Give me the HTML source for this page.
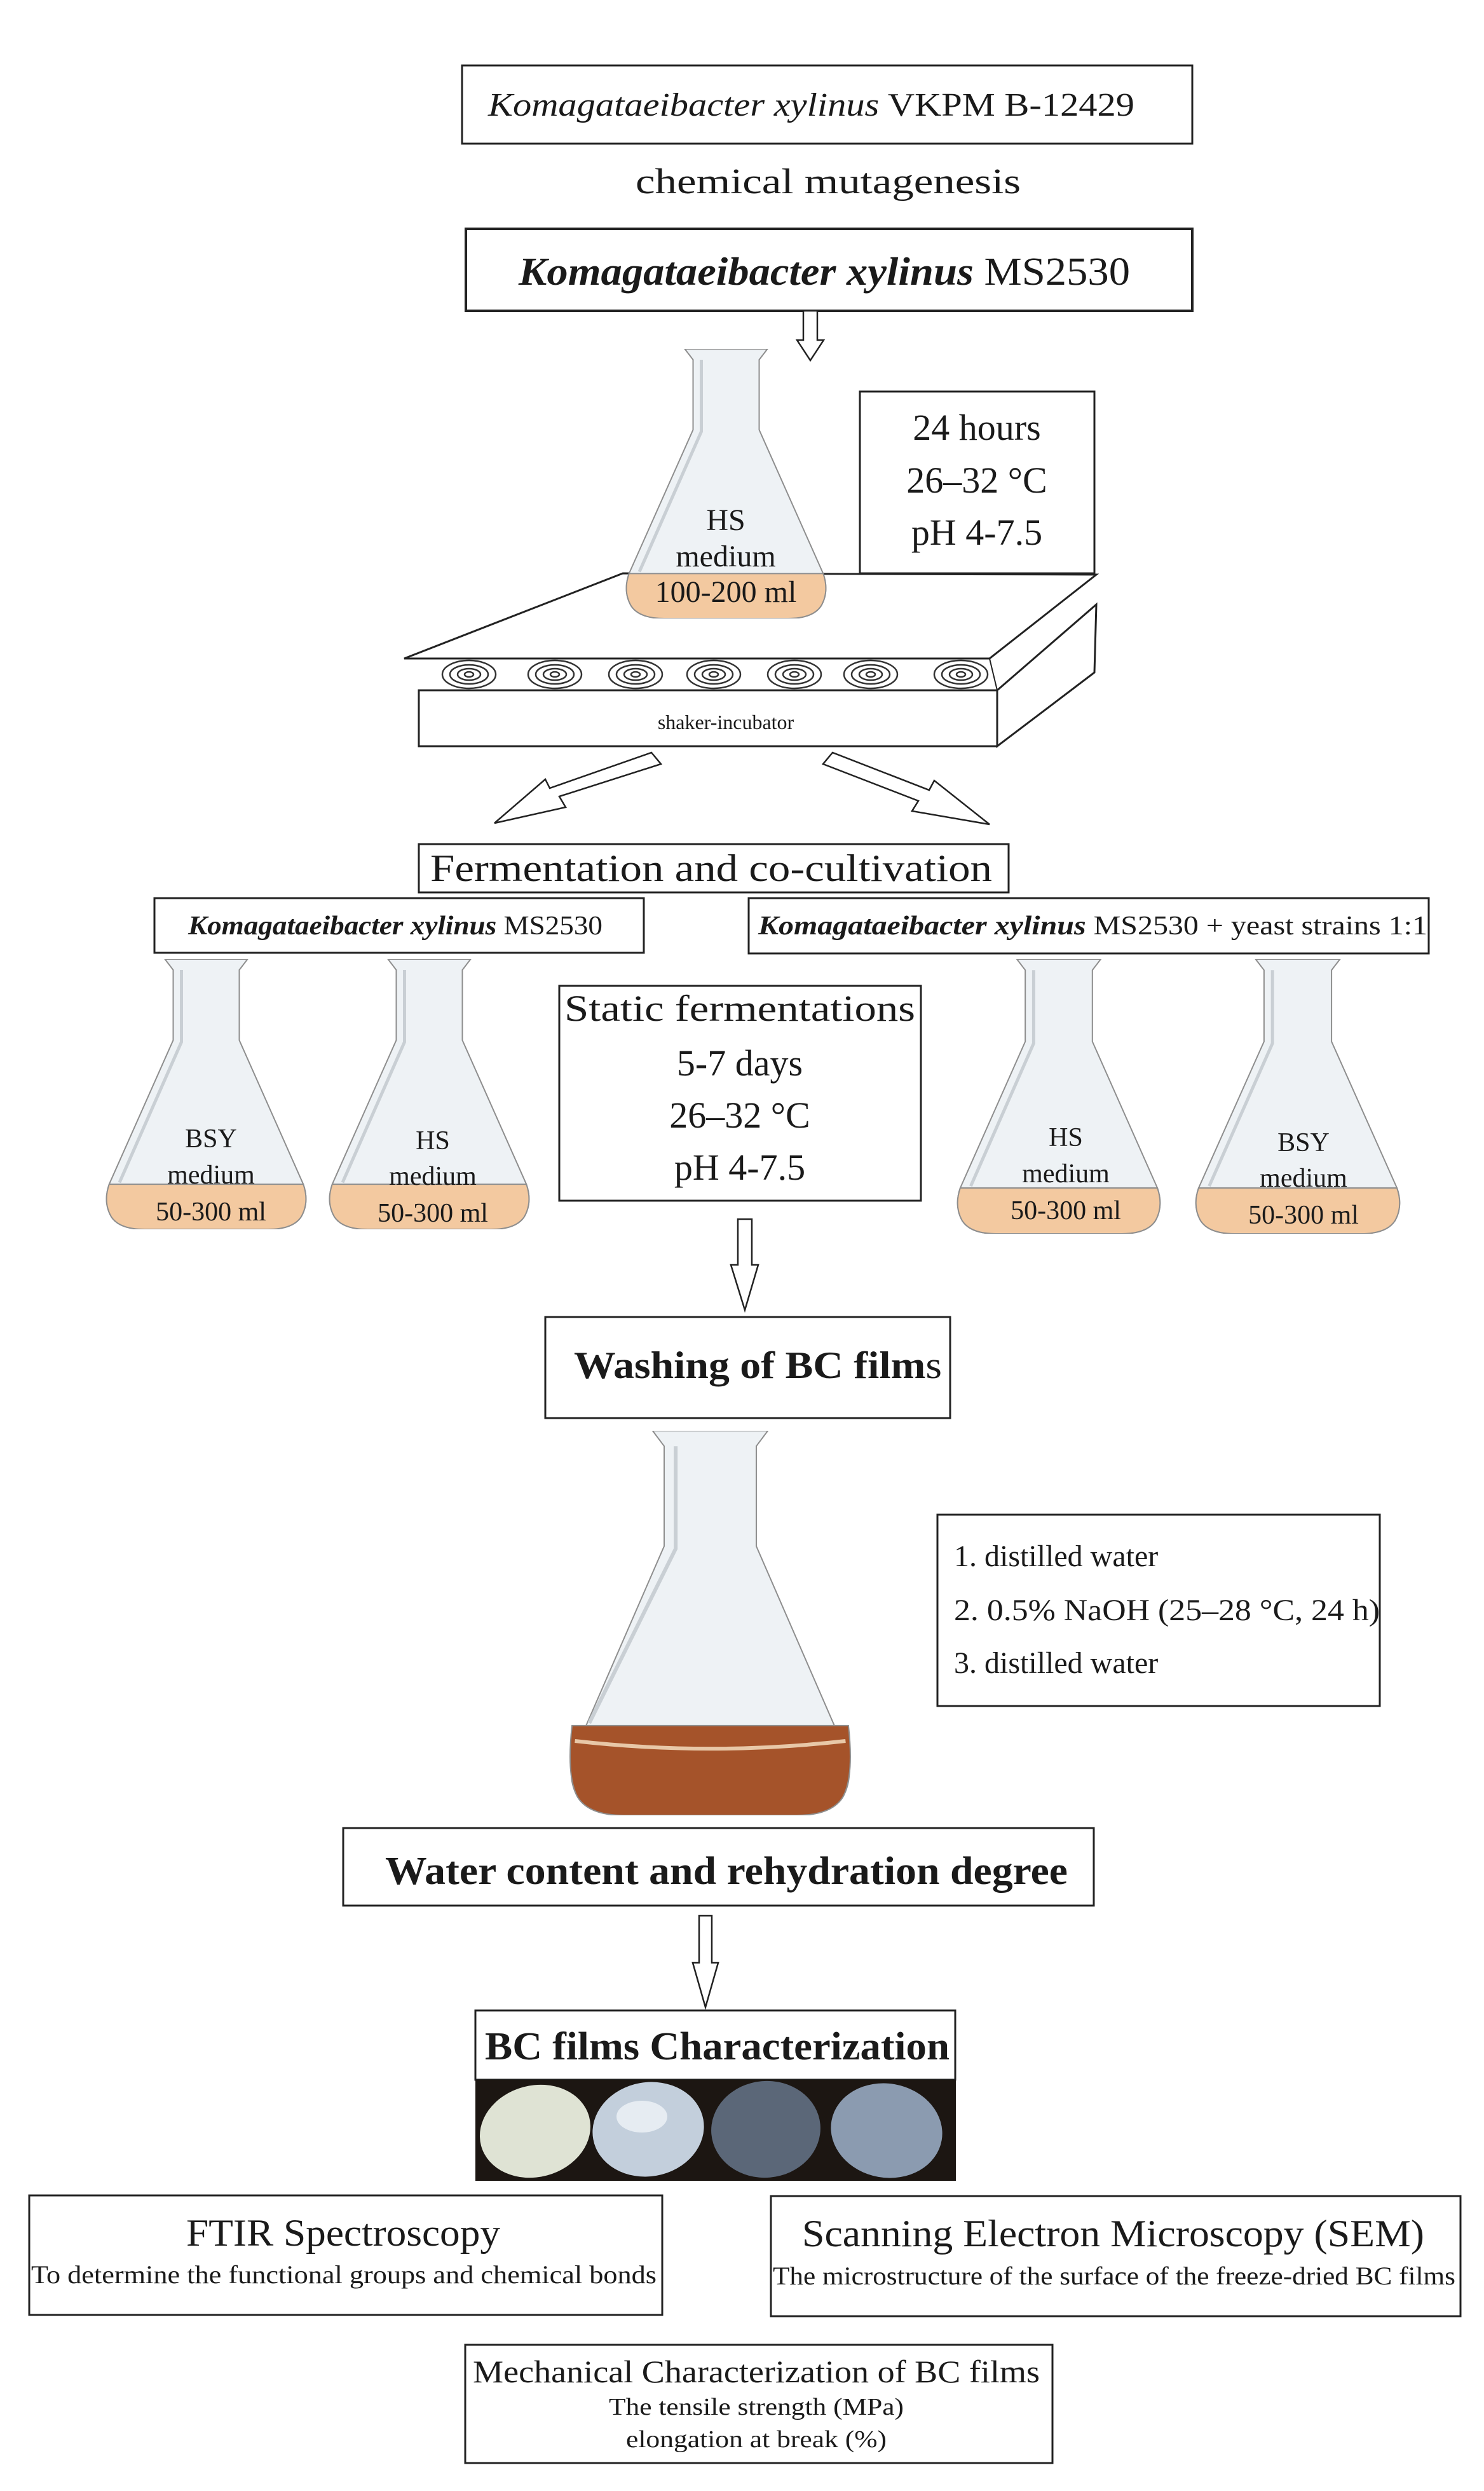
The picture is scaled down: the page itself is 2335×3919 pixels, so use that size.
<!DOCTYPE html>
<html><head><meta charset="utf-8"><style>
html,body{margin:0;padding:0;background:#fff}
svg{display:block}
text{font-family:"Liberation Serif",serif;fill:#1a1a1a}
</style></head><body>
<svg width="2335" height="3919" viewBox="0 0 2335 3919" xmlns="http://www.w3.org/2000/svg">
<defs>
<clipPath id="fc" clipPathUnits="objectBoundingBox"><path d="M0.30,0 L0.70,0 L0.66,0.04 L0.66,0.30 L0.97,0.83 Q1,0.90 0.96,0.95 Q0.92,1 0.80,1 L0.20,1 Q0.08,1 0.04,0.95 Q0,0.90 0.03,0.83 L0.34,0.30 L0.34,0.04 Z"/></clipPath>
<symbol id="flask" viewBox="0 0 100 150" preserveAspectRatio="none">
<path d="M30,0 L70,0 L66,6 L66,45 L97,125 Q100,135 96,143 Q92,150 80,150 L20,150 Q8,150 4,143 Q0,135 3,125 L34,45 L34,6 Z" fill="#eef2f5" stroke="#8e8e8e" stroke-width="2" vector-effect="non-scaling-stroke"/>
<path d="M3,125 L97,125 Q100,135 96,143 Q92,150 80,150 L20,150 Q8,150 4,143 Q0,135 3,125 Z" fill="#f3c9a0" stroke="#8e8e8e" stroke-width="2" vector-effect="non-scaling-stroke"/>
<path d="M38,6 L38,46 L8,124" fill="none" stroke="#c9cfd4" stroke-width="5" vector-effect="non-scaling-stroke"/>
</symbol>
<symbol id="bigflask" viewBox="0 0 100 150" preserveAspectRatio="none">
<path d="M30,0 L70,0 L66,6 L66,45 L97,125 Q100,135 96,143 Q92,150 80,150 L20,150 Q8,150 4,143 Q0,135 3,125 L34,45 L34,6 Z" fill="#eef2f5" stroke="#8e8e8e" stroke-width="2" vector-effect="non-scaling-stroke"/>
<path d="M2,115 L98,115 Q100,135 96,143 Q92,150 80,150 L20,150 Q8,150 4,143 Q0,135 2,115 Z" fill="#a5532a" stroke="#8e8e8e" stroke-width="2" vector-effect="non-scaling-stroke"/>
<path d="M3,121 Q50,127 97,121" fill="none" stroke="#e8c8a8" stroke-width="6" vector-effect="non-scaling-stroke"/>
<path d="M38,6 L38,46 L8,114" fill="none" stroke="#c9cfd4" stroke-width="6" vector-effect="non-scaling-stroke"/>
</symbol>
</defs>
<g fill="none" stroke="#222" stroke-width="3">
<rect x="727" y="103" width="1149" height="123"/>
<rect x="733" y="360" width="1143" height="129" stroke-width="4"/>
<rect x="1353" y="616" width="369" height="286"/>
<rect x="659" y="1328" width="928" height="76"/>
<rect x="243" y="1413" width="770" height="86"/>
<rect x="1178" y="1413" width="1070" height="87"/>
<rect x="880" y="1551" width="569" height="338"/>
<rect x="858" y="2072" width="637" height="159"/>
<rect x="1475" y="2383" width="696" height="301"/>
<rect x="540" y="2876" width="1181" height="122"/>
<rect x="748" y="3163" width="755" height="109"/>
<rect x="46" y="3454" width="996" height="188"/>
<rect x="1213" y="3455" width="1085" height="189"/>
<rect x="732" y="3689" width="924" height="186"/>
</g>
<text x="768" y="182" font-size="52" textLength="1017" lengthAdjust="spacingAndGlyphs"><tspan font-style="italic">Komagataeibacter xylinus</tspan> VKPM B-12429</text>
<text x="1000" y="304" font-size="56" textLength="606" lengthAdjust="spacingAndGlyphs">chemical mutagenesis</text>
<text x="816" y="448" font-size="62" textLength="962" lengthAdjust="spacingAndGlyphs"><tspan font-style="italic" font-weight="bold">Komagataeibacter xylinus</tspan> MS2530</text>
<!-- arrow 1 -->
<path d="M1264,489 L1286,489 L1286,535 L1296,535 L1275,567 L1254,535 L1264,535 Z" fill="#fff" stroke="#222" stroke-width="2.5"/>
<!-- shaker -->
<g stroke="#222" stroke-width="3" fill="#fff">
<path d="M636,1036 L980,902 L1725,904 L1557,1036 Z"/>
<path d="M1569,1086 L1725,951 L1722,1058 L1569,1174 Z"/>
<rect x="659" y="1086" width="910" height="88"/>
</g>
<path d="M1557,1036 L1569,1086" stroke="#222" stroke-width="2"/>
<g fill="none" stroke="#333" stroke-width="2.5">
<g id="sp"><ellipse cx="738" cy="1061" rx="42" ry="22"/><ellipse cx="738" cy="1061" rx="30" ry="15"/><ellipse cx="738" cy="1061" rx="18" ry="9"/><ellipse cx="738" cy="1061" rx="7" ry="4"/></g>
<use href="#sp" x="135"/><use href="#sp" x="262"/><use href="#sp" x="385"/><use href="#sp" x="512"/><use href="#sp" x="632"/><use href="#sp" x="774"/>
</g>
<text x="1142" y="1147" font-size="32" text-anchor="middle">shaker-incubator</text>
<!-- flask 1 -->
<use href="#flask" x="980" y="549" width="325" height="424"/>
<text x="1142" y="834" font-size="48" text-anchor="middle">HS</text>
<text x="1142" y="891" font-size="48" text-anchor="middle">medium</text>
<text x="1142" y="947" font-size="48" text-anchor="middle">100-200 ml</text>
<text x="1537" y="692" font-size="58" text-anchor="middle">24 hours</text>
<text x="1537" y="775" font-size="58" text-anchor="middle">26–32 °C</text>
<text x="1537" y="857" font-size="58" text-anchor="middle">pH 4-7.5</text>
<!-- diagonal arrows -->
<path d="M1025,1184 L1040,1202 L880,1253 L890,1270 L778,1295 L858,1226 L865,1240 Z" fill="#fff" stroke="#222" stroke-width="2.5"/>
<path d="M1310,1184 L1295,1202 L1445,1260 L1435,1276 L1557,1297 L1470,1228 L1462,1243 Z" fill="#fff" stroke="#222" stroke-width="2.5"/>
<text x="677" y="1386" font-size="60" textLength="884" lengthAdjust="spacingAndGlyphs">Fermentation and co-cultivation</text>
<text x="296" y="1470" font-size="42" textLength="652" lengthAdjust="spacingAndGlyphs"><tspan font-style="italic" font-weight="bold">Komagataeibacter xylinus</tspan> MS2530</text>
<text x="1193" y="1470" font-size="42" textLength="1053" lengthAdjust="spacingAndGlyphs"><tspan font-style="italic" font-weight="bold">Komagataeibacter xylinus</tspan> MS2530 + yeast strains 1:1</text>
<!-- small flasks -->
<use href="#flask" x="162" y="1509" width="325" height="425"/>
<use href="#flask" x="513" y="1509" width="325" height="425"/>
<use href="#flask" x="1501" y="1509" width="330" height="432"/>
<use href="#flask" x="1876" y="1509" width="332" height="432"/>
<g font-size="42" text-anchor="middle">
<text x="332" y="1805">BSY</text><text x="332" y="1862">medium</text><text x="332" y="1920">50-300 ml</text>
<text x="681" y="1808">HS</text><text x="681" y="1864">medium</text><text x="681" y="1922">50-300 ml</text>
<text x="1677" y="1803">HS</text><text x="1677" y="1860">medium</text><text x="1677" y="1918">50-300 ml</text>
<text x="2051" y="1811">BSY</text><text x="2051" y="1867">medium</text><text x="2051" y="1925">50-300 ml</text>
</g>
<text x="888" y="1606" font-size="58" textLength="552" lengthAdjust="spacingAndGlyphs">Static fermentations</text>
<text x="1164" y="1692" font-size="58" text-anchor="middle">5-7 days</text>
<text x="1164" y="1774" font-size="58" text-anchor="middle">26–32 °C</text>
<text x="1164" y="1856" font-size="58" text-anchor="middle">pH 4-7.5</text>
<path d="M1161,1918 L1183,1918 L1183,1990 L1193,1990 L1172,2061 L1150,1990 L1161,1990 Z" fill="#fff" stroke="#222" stroke-width="2.5"/>
<text x="903" y="2168" font-size="60" textLength="579" lengthAdjust="spacingAndGlyphs"><tspan font-weight="bold">Washing of BC film</tspan>s</text>
<use href="#bigflask" x="891" y="2251" width="453" height="605"/>
<g font-size="48">
<text x="1501" y="2464">1. distilled water</text>
<text x="1501" y="2549" textLength="670" lengthAdjust="spacingAndGlyphs">2. 0.5% NaOH (25–28 °C, 24 h)</text>
<text x="1501" y="2632">3. distilled water</text>
</g>
<text x="606" y="2964" font-size="62" font-weight="bold" textLength="1074" lengthAdjust="spacingAndGlyphs">Water content and rehydration degree</text>
<path d="M1100,3014 L1120,3014 L1120,3088 L1130,3088 L1110,3158 L1090,3088 L1100,3088 Z" fill="#fff" stroke="#222" stroke-width="2.5"/>
<text x="763" y="3240" font-size="62" font-weight="bold" textLength="731" lengthAdjust="spacingAndGlyphs">BC films Characterization</text>
<!-- photo -->
<rect x="748" y="3272" width="756" height="159" fill="#1c1612"/>
<ellipse cx="842" cy="3353" rx="88" ry="72" fill="#dfe3d4" transform="rotate(-15 842 3353)"/>
<ellipse cx="1020" cy="3350" rx="88" ry="74" fill="#c3cfdc" transform="rotate(-10 1020 3350)"/>
<ellipse cx="1010" cy="3330" rx="40" ry="25" fill="#e6ecf2"/>
<ellipse cx="1205" cy="3350" rx="86" ry="76" fill="#5b6778" transform="rotate(-5 1205 3350)"/>
<ellipse cx="1395" cy="3352" rx="88" ry="74" fill="#8b9bb0" transform="rotate(10 1395 3352)"/>
<g font-size="60" text-anchor="start">
<text x="293" y="3533" textLength="494" lengthAdjust="spacingAndGlyphs">FTIR Spectroscopy</text>
<text x="1262" y="3534" textLength="979" lengthAdjust="spacingAndGlyphs">Scanning Electron Microscopy (SEM)</text>
</g>
<g font-size="40">
<text x="49" y="3592" textLength="984" lengthAdjust="spacingAndGlyphs">To determine the functional groups and chemical bonds</text>
<text x="1216" y="3594" textLength="1074" lengthAdjust="spacingAndGlyphs">The microstructure of the surface of the freeze-dried BC films</text>
</g>
<text x="744" y="3748" font-size="50" textLength="892" lengthAdjust="spacingAndGlyphs">Mechanical Characterization of BC films</text>
<text x="958" y="3799" font-size="38" textLength="464" lengthAdjust="spacingAndGlyphs">The tensile strength (MPa)</text>
<text x="985" y="3850" font-size="38" textLength="410" lengthAdjust="spacingAndGlyphs">elongation at break (%)</text>
</svg>
</body></html>
